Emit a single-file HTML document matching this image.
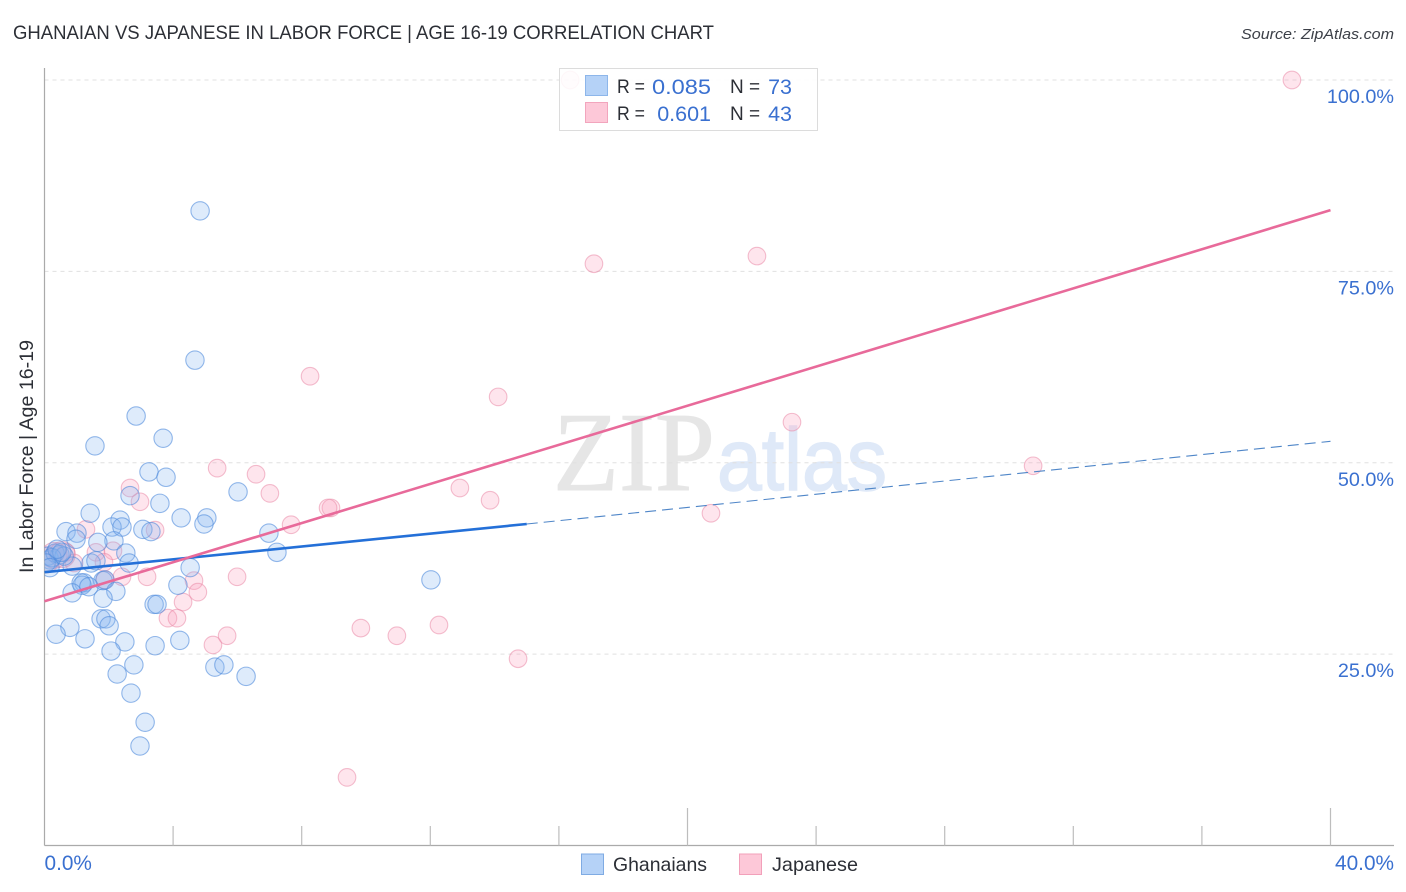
<!DOCTYPE html>
<html lang="en">
<head>
<meta charset="utf-8">
<title>Ghanaian vs Japanese in Labor Force | Age 16-19 Correlation Chart</title>
<style>
html,body{margin:0;padding:0;background:#fff;width:1406px;height:892px;overflow:hidden}
svg{display:block;font-family:"Liberation Sans",sans-serif}
</style>
</head>
<body>
<svg id="chart" xmlns="http://www.w3.org/2000/svg" width="1406" height="892" viewBox="0 0 1406 892">
  <defs><clipPath id="plot-clip"><rect x="44.5" y="60" width="1350" height="786"/></clipPath></defs>
  <rect x="0" y="0" width="1406" height="892" fill="#fff"/>
  <text x="13" y="39" font-size="19.5" fill="#2c2f36" textLength="701" lengthAdjust="spacingAndGlyphs">GHANAIAN VS JAPANESE IN LABOR FORCE | AGE 16-19 CORRELATION CHART</text>
  <text x="1394" y="39" font-size="15" font-style="italic" fill="#3c4048" text-anchor="end" textLength="153" lengthAdjust="spacingAndGlyphs">Source: ZipAtlas.com</text>
  <g>
    <text x="553" y="490" font-family="'Liberation Serif',serif" font-size="112" fill="#e6e6e6" stroke="#e6e6e6" stroke-width="1" textLength="162" lengthAdjust="spacingAndGlyphs">ZIP</text>
    <text x="717" y="490" font-size="88" fill="#dfe9f8" stroke="#dfe9f8" stroke-width="1.5" textLength="170" lengthAdjust="spacingAndGlyphs">atlas</text>
  </g>
  <g id="grid"></g>
  <g id="axes"></g>
  <g id="points"></g>
  <g id="trends"></g>
  <text transform="translate(33,573) rotate(-90)" font-size="19" fill="#2c2f36" textLength="233" lengthAdjust="spacingAndGlyphs">In Labor Force | Age 16-19</text>
  <g>
    <rect x="559.5" y="68.5" width="258" height="62" fill="#fff" fill-opacity="0.88" stroke="#dcdcdc"/>
    <rect x="585.5" y="75.5" width="22" height="20" fill="#b5d2f7" stroke="#8db6ea"/>
    <rect x="585.5" y="102.5" width="22" height="20" fill="#fdc8d8" stroke="#f2a5bd"/>
    <text x="617" y="93" font-size="19" fill="#2c2f36" textLength="28" lengthAdjust="spacingAndGlyphs">R =</text>
    <text x="652" y="94" font-size="21.5" fill="#3a70d0" textLength="59" lengthAdjust="spacingAndGlyphs">0.085</text>
    <text x="730" y="93" font-size="19" fill="#2c2f36">N =</text>
    <text x="792" y="94" font-size="21.5" fill="#3a70d0" text-anchor="end">73</text>
    <text x="617" y="120" font-size="19" fill="#2c2f36" textLength="28" lengthAdjust="spacingAndGlyphs">R =</text>
    <text x="711" y="121" font-size="21.5" fill="#3a70d0" text-anchor="end">0.601</text>
    <text x="730" y="120" font-size="19" fill="#2c2f36">N =</text>
    <text x="792" y="121" font-size="21.5" fill="#3a70d0" text-anchor="end">43</text>
  </g>
  <g>
    <rect x="581.5" y="854" width="22" height="20.5" fill="#b5d2f7" stroke="#7fabe3"/>
    <text x="613" y="871" font-size="19.5" fill="#2c2f36" textLength="94" lengthAdjust="spacingAndGlyphs">Ghanaians</text>
    <rect x="739.5" y="854" width="22" height="20.5" fill="#fdc8d8" stroke="#f2a0ba"/>
    <text x="772" y="871" font-size="19.5" fill="#2c2f36" textLength="86" lengthAdjust="spacingAndGlyphs">Japanese</text>
  </g>
</svg>
<script>
const yTickValues = [25, 50, 75, 100];
const yTickLabels = ["25.0%", "50.0%", "75.0%", "100.0%"];
const xTickValues = [0, 4, 8, 12, 16, 20, 24, 28, 32, 36, 40];
const xMajorTicks = [20, 40];
const xEdgeValues = [0, 40];
const xEdgeLabels = ["0.0%", "40.0%"];

const ghanaianX = [4.84,4.68,2.85,1.57,3.69,3.25,3.78,2.66,3.59,6.02,1.42,5.05,4.25,4.96,2.35,2.10,2.41,3.06,3.31,0.67,1.01,0.98,6.98,2.16,1.66,2.53,7.23,4.53,2.63,1.45,1.60,0.86,0.17,1.23,1.17,1.14,1.82,1.88,4.15,12.02,1.38,2.22,0.86,1.82,3.41,3.50,1.76,1.91,2.01,0.79,0.36,1.26,2.50,4.21,3.44,2.07,5.30,5.58,6.27,2.26,2.78,2.69,3.13,2.97,0.11,0.33,0.48,0.61,0.23,0.05,0.17,0.54,0.39];
const ghanaianY = [82.9,63.4,56.1,52.2,53.2,48.8,48.1,45.7,44.7,46.2,43.4,42.8,42.8,42.0,42.5,41.6,41.6,41.3,41.0,41.0,40.8,40.0,40.8,39.8,39.6,38.2,38.3,36.3,36.9,36.9,37.2,36.5,37.3,34.3,34.0,34.3,34.6,34.7,34.0,34.7,33.8,33.2,33.0,32.3,31.5,31.5,29.6,29.6,28.7,28.5,27.6,27.0,26.6,26.8,26.1,25.4,23.3,23.6,22.1,22.4,23.6,19.9,16.1,13.0,37.8,38.2,38.0,37.8,37.6,36.9,36.3,38.3,38.7];
const japaneseX = [16.35,38.80,17.09,22.16,8.26,14.11,23.25,30.75,5.37,6.58,7.01,2.66,2.97,3.44,8.91,8.82,7.67,12.92,13.86,20.73,1.29,2.13,1.60,1.85,0.92,2.41,3.19,1.88,4.65,5.99,4.77,4.31,3.84,4.12,5.24,5.68,9.84,10.96,12.27,14.73,9.41,0.33,0.67];
const japaneseY = [100,100,76.0,77.0,61.3,58.6,55.3,49.6,49.3,48.5,46.0,46.7,44.9,41.2,44.1,44.1,41.9,46.7,45.1,43.4,41.3,38.5,38.3,37.0,36.9,35.1,35.1,34.7,34.6,35.1,33.1,31.8,29.7,29.7,26.2,27.4,28.4,27.4,28.8,24.4,8.9,38.2,38.3];
const clusterX = [0.05, 0.3, 0.55];
const clusterY = [37.3, 37.9, 38.0];

const ghanaianTrendX = [0, 15, 40];
const ghanaianTrendY = [35.7, 42.0, 52.8];
const japaneseTrendX = [0, 40];
const japaneseTrendY = [31.9, 83.0];

const SVG_NS = "http://www.w3.org/2000/svg";
const plotLeft = 44.5, plotBottom = 845.5, plotRight = 1394;
const xScale = v => plotLeft + v * 32.15;
const yScale = v => plotBottom - v * 7.655;

function make(tag, attrs, parent) {
  const el = document.createElementNS(SVG_NS, tag);
  for (const k in attrs) el.setAttribute(k, attrs[k]);
  parent.appendChild(el);
  return el;
}

const grid = document.getElementById("grid");
const axes = document.getElementById("axes");
const points = document.getElementById("points");
const trends = document.getElementById("trends");
points.setAttribute("clip-path", "url(#plot-clip)");

yTickValues.forEach((v, i) => {
  const line = make("line", {x1: plotLeft, x2: plotRight, y1: yScale(v), y2: yScale(v), stroke: "#e0e0e0", "stroke-dasharray": "4 4"}, grid);
  
  
  const label = make("text", {x: 1394, y: yScale(v) + 23, "font-size": 19.8, fill: "#3a70d0", "text-anchor": "end"}, axes);
  label.textContent = yTickLabels[i];
  
  
});

const yAxis = make("line", {x1: plotLeft, x2: plotLeft, y1: 68, y2: plotBottom, stroke: "#aaaaaa", "stroke-width": 1.2}, axes);


const xAxis = make("line", {x1: plotLeft, x2: plotRight, y1: plotBottom, y2: plotBottom, stroke: "#aaaaaa", "stroke-width": 1.2}, axes);



xTickValues.forEach(v => {
  if (v === 0) return;
  const major = xMajorTicks.includes(v);
  const tick = make("line", {x1: xScale(v), x2: xScale(v), y1: major ? 808 : 826, y2: plotBottom, stroke: "#bdbdbd", "stroke-width": 1.2}, axes);
  
  
});

xEdgeValues.forEach((v, i) => {
  const label = make("text", {x: i === 0 ? xScale(v) : 1394, y: 870, "font-size": 20.8, fill: "#3a70d0", "text-anchor": i === 0 ? "start" : "end"}, axes);
  label.textContent = xEdgeLabels[i];
  
  
});

japaneseX.forEach((v, i) => {
  const dot = make("circle", {cx: xScale(v), cy: yScale(japaneseY[i]), r: 8.8, fill: "#fba3bf", "fill-opacity": 0.28, stroke: "#e98aa8", "stroke-opacity": 0.55, "stroke-width": 1.1}, points);
  
  
});
clusterX.forEach((v, i) => {
  const dot = make("circle", {cx: xScale(v), cy: yScale(clusterY[i]), r: 13, fill: "#e98ab0", "fill-opacity": 0.22, stroke: "#d97aa0", "stroke-opacity": 0.5, "stroke-width": 1.1}, points);
  
  
});
ghanaianX.forEach((v, i) => {
  const dot = make("circle", {cx: xScale(v), cy: yScale(ghanaianY[i]), r: 9.2, fill: "#8ab8f0", "fill-opacity": 0.28, stroke: "#4f8bdc", "stroke-opacity": 0.6, "stroke-width": 1.1}, points);
  
  
});

const blueSolid = make("line", {x1: xScale(ghanaianTrendX[0]), y1: yScale(ghanaianTrendY[0]), x2: xScale(ghanaianTrendX[1]), y2: yScale(ghanaianTrendY[1]), stroke: "#2470d8", "stroke-width": 2.6}, trends);


const blueDash = make("line", {x1: xScale(ghanaianTrendX[1]), y1: yScale(ghanaianTrendY[1]), x2: xScale(ghanaianTrendX[2]), y2: yScale(ghanaianTrendY[2]), stroke: "#4f86c8", "stroke-width": 1.1, "stroke-dasharray": "11 6"}, trends);


const pinkLine = make("line", {x1: xScale(japaneseTrendX[0]), y1: yScale(japaneseTrendY[0]), x2: xScale(japaneseTrendX[1]), y2: yScale(japaneseTrendY[1]), stroke: "#e86a9a", "stroke-width": 2.6}, trends);


</script>
</body>
</html>
